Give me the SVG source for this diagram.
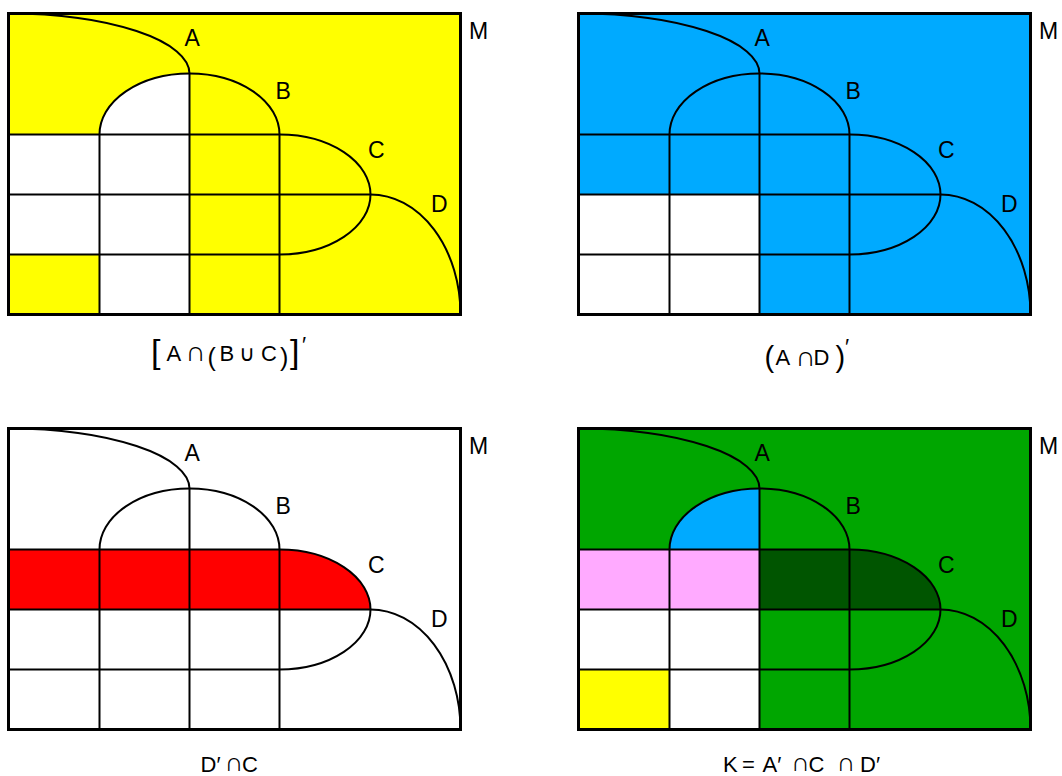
<svg xmlns="http://www.w3.org/2000/svg" xmlns:xlink="http://www.w3.org/1999/xlink" width="1062" height="776" viewBox="0 0 1062 776">
<style>
.ln{fill:none;stroke:#000;stroke-width:2}
.frame{fill:none;stroke:#000;stroke-width:3}
.lbl{font-family:"Liberation Sans",Arial,sans-serif;font-size:23px;fill:#000}
.cap{font-family:"Liberation Sans",Arial,sans-serif;font-size:22px;fill:#000}
.sym{font-family:"Liberation Sans","DejaVu Sans",sans-serif;font-size:28px}
.symb{font-family:"Liberation Sans","DejaVu Sans",sans-serif;font-size:26px}
.sym2{font-family:"DejaVu Sans",sans-serif;font-size:22px}
.yel{fill:#FFFF00}.cya{fill:#00AAFF}.grn{fill:#00A600}.dgr{fill:#005500}.pnk{fill:#FFAAFF}.red{fill:#FF0000}.wht{fill:#FFFFFF}
</style>
<defs>
<g id="lines">
<path class="ln" d="M8.5,13.5 A181,60 0 0 1 189.5,73.5 V314.5"/>
<path class="ln" d="M99.5,314.5 V134.5 A90,61 0 0 1 189.5,73.5 A90,61 0 0 1 279.5,134.5 V314.5"/>
<path class="ln" d="M8.5,134.5 H279.5 A91,60 0 0 1 370.5,194.5 A91,60 0 0 1 279.5,254.5 H8.5"/>
<path class="ln" d="M8.5,194.5 H370.5 A90,120 0 0 1 460.5,314.5"/>
<rect class="frame" x="8.5" y="13.5" width="452" height="301"/>
</g>
<path id="domeL" d="M99.5,134.5 A90,61 0 0 1 189.5,73.5 V134.5 Z"/>
</defs>

<g id="panel-1">
<rect class="yel" x="8.5" y="13.5" width="452" height="301"/>
<use xlink:href="#domeL" class="wht"/>
<rect class="wht" x="99.5" y="134.5" width="90" height="180"/>
<rect class="wht" x="8.5" y="134.5" width="91" height="120"/>
<use xlink:href="#lines"/>
<text class="lbl" x="184.5" y="46">A</text>
<text class="lbl" x="275.5" y="99">B</text>
<text class="lbl" x="368" y="158">C</text>
<text class="lbl" x="431" y="212">D</text>
<text class="lbl" x="469" y="39">M</text>
<text class="cap" y="360.5"><tspan x="151" y="363" font-size="34">[</tspan><tspan x="166.5" y="360.5">A</tspan><tspan class="sym" x="185.5" y="361">∩</tspan><tspan x="207.5" y="366" font-size="25">(</tspan><tspan x="219.5" y="360.5">B</tspan><tspan class="sym2" x="239" y="360.5">∪</tspan><tspan x="261" y="360.5">C</tspan><tspan x="280" y="366" font-size="25">)</tspan><tspan x="290" y="363" font-size="34">]</tspan><tspan x="302" y="352">′</tspan></text>
</g>

<g id="panel-2" transform="translate(570,0)">
<rect class="cya" x="8.5" y="13.5" width="452" height="301"/>
<rect class="wht" x="8.5" y="194.5" width="181" height="120"/>
<use xlink:href="#lines"/>
<text class="lbl" x="184.5" y="46">A</text>
<text class="lbl" x="275.5" y="99">B</text>
<text class="lbl" x="368" y="158">C</text>
<text class="lbl" x="431" y="212">D</text>
<text class="lbl" x="469" y="39">M</text>
<text class="cap" y="365"><tspan x="194.5" y="366.5" font-size="29">(</tspan><tspan x="205.5" y="365">A</tspan><tspan class="sym" x="225.5" y="365.5">∩</tspan><tspan x="243.5" y="365">D</tspan><tspan x="265.5" y="366.5" font-size="29">)</tspan><tspan x="275" y="354">′</tspan></text>
</g>

<g id="panel-3" transform="translate(0,415)">
<rect class="wht" x="8.5" y="13.5" width="452" height="301"/>
<path class="red" d="M8.5,134.5 H279.5 A91,60 0 0 1 370.5,194.5 H8.5 Z"/>
<use xlink:href="#lines"/>
<text class="lbl" x="184.5" y="46">A</text>
<text class="lbl" x="275.5" y="99">B</text>
<text class="lbl" x="368" y="158">C</text>
<text class="lbl" x="431" y="212">D</text>
<text class="lbl" x="469" y="39">M</text>
<text class="cap" y="356.5"><tspan x="200.5" y="356.5">D′</tspan><tspan class="symb" x="224.5" y="355.5">∩</tspan><tspan x="242" y="356.5">C</tspan></text>
</g>

<g id="panel-4" transform="translate(570,415)">
<rect class="grn" x="8.5" y="13.5" width="452" height="301"/>
<use xlink:href="#domeL" class="cya"/>
<rect class="pnk" x="8.5" y="134.5" width="181" height="60"/>
<path class="dgr" d="M189.5,134.5 H279.5 A91,60 0 0 1 370.5,194.5 H189.5 Z"/>
<rect class="wht" x="8.5" y="194.5" width="181" height="60"/>
<rect class="wht" x="99.5" y="254.5" width="90" height="60"/>
<rect class="yel" x="8.5" y="254.5" width="91" height="60"/>
<use xlink:href="#lines"/>
<text class="lbl" x="184.5" y="46">A</text>
<text class="lbl" x="275.5" y="99">B</text>
<text class="lbl" x="368" y="158">C</text>
<text class="lbl" x="431" y="212">D</text>
<text class="lbl" x="469" y="39">M</text>
<text class="cap" y="356.5"><tspan x="153" y="356.5">K</tspan><tspan x="172" y="356.5">=</tspan><tspan x="192.5" y="356.5">A′</tspan><tspan class="symb" x="221" y="355.5">∩</tspan><tspan x="238.5" y="356.5">C</tspan><tspan class="symb" x="266.5" y="355.5">∩</tspan><tspan x="290" y="356.5">D′</tspan></text>
</g>
</svg>
